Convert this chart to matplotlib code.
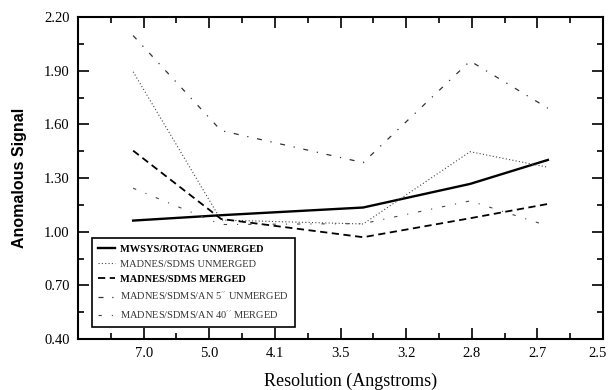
import numpy as np
import matplotlib
matplotlib.use("Agg")
import matplotlib.pyplot as plt
import matplotlib.transforms as mtransforms
from matplotlib.ticker import MultipleLocator, FixedLocator

plt.rcParams['font.family'] = ['Liberation Serif', 'DejaVu Serif']
plt.rcParams['mathtext.fontset'] = 'stix'

# x positions of resolution shells, in 1/d^2 (A^-2)
shell_x = [0.0168, 0.0436, 0.0869, 0.1195, 0.1432]

mwsys_unmerged = [1.062, 1.092, 1.135, 1.267, 1.401]
madnes_unmerged = [1.894, 1.065, 1.043, 1.447, 1.360]
madnes_merged = [1.453, 1.071, 0.969, 1.075, 1.155]
an5_unmerged = [2.096, 1.565, 1.386, 1.954, 1.690]
an40_merged = [1.243, 1.040, 1.045, 1.172, 1.032]

tick_pos = [0.02, 0.04, 0.06, 0.08, 0.10, 0.12, 0.14, 0.16]
tick_labels = ['7.0', '5.0', '4.1', '3.5', '3.2', '2.8', '2.7', '2.5']
y_ticks = [0.40, 0.70, 1.00, 1.30, 1.60, 1.90, 2.20]

labels = ['MWSYS/ROTAG UNMERGED',
          'MADNES/SDMS UNMERGED',
          'MADNES/SDMS MERGED',
          r'MADNES/SDMS/AN 5$^{\prime\prime}$ UNMERGED',
          r'MADNES/SDMS/AN 40$^{\prime\prime}$ MERGED']

fig = plt.figure(figsize=(6.08, 3.90), dpi=100)
ax = fig.add_axes([78 / 608, 1 - 339 / 390, 525 / 608, 322 / 390])

ax.plot(shell_x, mwsys_unmerged, color='black', lw=1.7, ls='-', label=labels[0])
ax.plot(shell_x, madnes_unmerged, color='#444444', lw=0.8, ls=(0, (1, 2)), label=labels[1])
ax.plot(shell_x, madnes_merged, color='black', lw=1.3, ls=(0, (4, 2.5)), label=labels[2])
ax.plot(shell_x, an5_unmerged, color='#333333', lw=0.9, ls=(0, (4, 7, 1, 7)), label=labels[3])
ax.plot(shell_x, an40_merged, color='#444444', lw=0.8, ls=(0, (3, 9, 1, 9)), label=labels[4])

ax.set_xlim(0, 0.16)
ax.set_ylim(0.40, 2.20)
ax.xaxis.set_major_locator(FixedLocator(tick_pos))
ax.set_xticklabels(tick_labels)
ax.xaxis.set_minor_locator(MultipleLocator(0.01))
ax.yaxis.set_major_locator(FixedLocator(y_ticks))
ax.yaxis.set_minor_locator(FixedLocator([v + 0.15 for v in y_ticks[:-1]]))
ax.set_yticklabels(['%.2f' % v for v in y_ticks])

ax.tick_params(which='both', direction='in', top=True, right=True, width=1.2)
ax.tick_params(which='major', length=8, labelsize=10.5, pad=6)
ax.tick_params(which='minor', length=4)
for sp in ax.spines.values():
    sp.set_linewidth(1.5)

# keep the last x label inside the figure
last = ax.get_xticklabels()[-1]
last.set_transform(last.get_transform() +
                   mtransforms.ScaledTranslation(-5 / 100, 0, fig.dpi_scale_trans))

ax.set_ylabel('Anomalous Signal', family='Liberation Sans', fontweight='bold',
              fontsize=11.5, labelpad=12)
fig.text(351 / 608, 1 - 381 / 390, 'Resolution (Angstroms)', fontsize=13,
         ha='center', va='center')

leg = ax.legend(loc='lower left', bbox_to_anchor=(0.027, 0.037), borderaxespad=0,
                fontsize=7.5, frameon=True, fancybox=False, framealpha=1,
                edgecolor='black', handlelength=1.6, handletextpad=0.5,
                labelspacing=0.55, borderpad=0.6)
leg.get_frame().set_linewidth(1.2)
for i, t in enumerate(leg.get_texts()):
    if i in (0, 2):
        t.set_fontweight('bold')
    else:
        t.set_color('#333333')

fig.savefig('out.png', dpi=100)
